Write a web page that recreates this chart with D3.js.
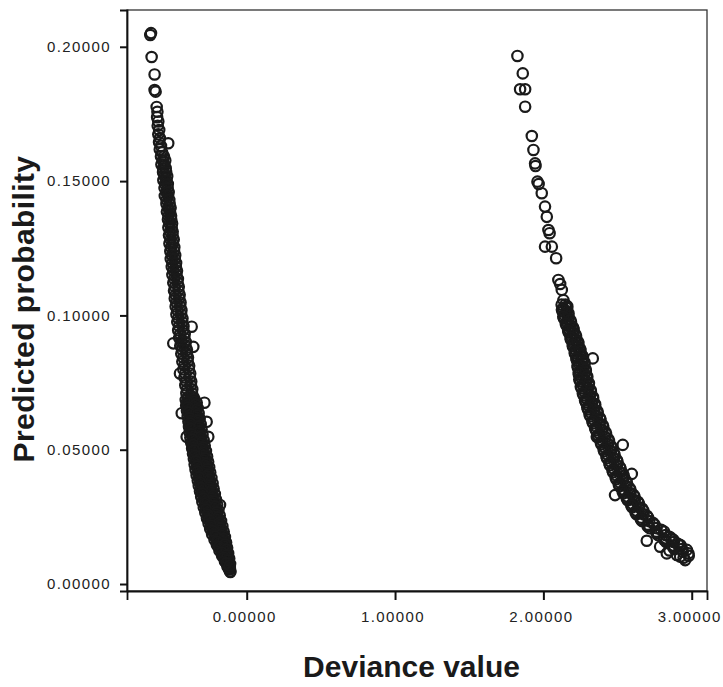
<!DOCTYPE html>
<html>
<head>
<meta charset="utf-8">
<script src="https://cdnjs.cloudflare.com/ajax/libs/d3/7.8.5/d3.min.js"></script>
<style>
  html, body { margin: 0; padding: 0; background: #fff; }
  .tick text { font-family: "Liberation Sans", Arial, sans-serif; font-size: 15px; letter-spacing: 1.4px; fill: #222; }
</style>
</head>
<body>
<script>
// tick values
var xTicks = [0, 1, 2, 3];
var yTicks = [0, 0.05, 0.10, 0.15, 0.20];

// cases with observed 0 : predicted probability, and the deviance values read at that probability
var leftProbability = [
  0.2051, 0.2044, 0.1962, 0.1897, 0.1839, 0.1833, 0.1776, 0.1758, 0.1738, 0.1722,
  0.1706, 0.1690, 0.1674, 0.1660, 0.1645, 0.1641, 0.1631, 0.1618, 0.1607,
  0.1592, 0.1577, 0.1562, 0.1548, 0.1533, 0.1518, 0.1503, 0.1489, 0.1474, 0.1459,
  0.1445, 0.1430, 0.1415, 0.1401, 0.1386, 0.1371, 0.1357, 0.1342, 0.1327, 0.1312,
  0.1298, 0.1283, 0.1268, 0.1254, 0.1239, 0.1224, 0.1210, 0.1195, 0.1180, 0.1166,
  0.1151, 0.1136, 0.1122, 0.1107, 0.1092, 0.1077, 0.1063, 0.1048, 0.1033, 0.1019,
  0.1004, 0.0989, 0.0975, 0.0960, 0.0958, 0.0945, 0.0931, 0.0916, 0.0901, 0.0896,
  0.0887, 0.0883, 0.0872, 0.0857, 0.0843, 0.0828, 0.0813, 0.0799, 0.0784, 0.0769,
  0.0754, 0.0740, 0.0725, 0.0710, 0.0696,
  0.0685, 0.0675, 0.0665, 0.0655, 0.0645, 0.0636, 0.0625, 0.0615, 0.0605, 0.0604,
  0.0595, 0.0585, 0.0575, 0.0565, 0.0555, 0.0548, 0.0545, 0.0535, 0.0525, 0.0515,
  0.0505, 0.0495, 0.0485, 0.0475, 0.0465, 0.0455, 0.0445, 0.0435, 0.0425, 0.0415,
  0.0405, 0.0395, 0.0385, 0.0375, 0.0365, 0.0355, 0.0345, 0.0335, 0.0325, 0.0315,
  0.0305, 0.0295, 0.0294, 0.0285, 0.0275, 0.0265, 0.0255, 0.0245, 0.0235, 0.0225,
  0.0215, 0.0205, 0.0195, 0.0185, 0.0175, 0.0165, 0.0155, 0.0145, 0.0135, 0.0125,
  0.0115, 0.0105, 0.0095, 0.0085, 0.0075, 0.0065, 0.0055, 0.0047, 0.0045,
  // the packed lower part
  0.0680, 0.0670, 0.0660, 0.0650, 0.0640, 0.0630, 0.0620, 0.0610, 0.0600, 0.0590,
  0.0580, 0.0570, 0.0560, 0.0550, 0.0540, 0.0530, 0.0520, 0.0510, 0.0500, 0.0490,
  0.0480, 0.0470, 0.0460, 0.0450, 0.0440, 0.0430, 0.0420, 0.0410, 0.0400, 0.0390,
  0.0380, 0.0370, 0.0360, 0.0350, 0.0340, 0.0330, 0.0320, 0.0310, 0.0300, 0.0290,
  0.0280, 0.0270, 0.0260, 0.0250, 0.0240, 0.0230, 0.0220, 0.0210, 0.0200, 0.0190,
  0.0180, 0.0170, 0.0160, 0.0150, 0.0140, 0.0130, 0.0120, 0.0110, 0.0100, 0.0090,
  0.0080, 0.0070, 0.0060,
  0.0688, 0.0678, 0.0668, 0.0658, 0.0648, 0.0638, 0.0628, 0.0618, 0.0608, 0.0598,
  0.0588, 0.0578, 0.0568, 0.0558, 0.0548, 0.0538, 0.0528, 0.0518, 0.0508, 0.0498,
  0.0488, 0.0478, 0.0468, 0.0458, 0.0448, 0.0438, 0.0428, 0.0418, 0.0408, 0.0398,
  0.0388, 0.0378, 0.0368, 0.0358, 0.0348, 0.0338, 0.0328, 0.0318, 0.0308, 0.0298,
  0.0288, 0.0278, 0.0268, 0.0258, 0.0248, 0.0238, 0.0228, 0.0218, 0.0208, 0.0198,
  0.0188, 0.0178, 0.0168, 0.0158, 0.0148, 0.0138, 0.0128, 0.0118, 0.0108, 0.0098,
  0.0088, 0.0078, 0.0068
];
var leftDeviance = [
  [-0.645],[-0.650],[-0.641],[-0.621],[-0.621],[-0.614],[-0.607],[-0.602],[-0.604],[-0.596],
  [-0.600],[-0.590],[-0.596],[-0.585],[-0.591],[-0.529],[-0.578],[-0.586],[-0.570],
  [-0.578,-0.558],[-0.566,-0.549],[-0.575,-0.556],[-0.564,-0.546],[-0.564,-0.543],[-0.553,-0.536],[-0.562,-0.541],[-0.550,-0.532],[-0.554,-0.533],[-0.543,-0.526],
  [-0.552,-0.530],[-0.540,-0.522],[-0.541,-0.520],[-0.530,-0.513],[-0.538,-0.517],[-0.527,-0.510],[-0.531,-0.509],[-0.520,-0.503],[-0.528,-0.506],[-0.517,-0.499],
  [-0.524,-0.500],[-0.513,-0.492],[-0.521,-0.497],[-0.510,-0.488],[-0.515,-0.490],[-0.504,-0.482],[-0.512,-0.485],[-0.500,-0.476],[-0.505,-0.478],[-0.494,-0.470],
  [-0.501,-0.474],[-0.489,-0.464],[-0.495,-0.466],[-0.484,-0.458],[-0.490,-0.461],[-0.479,-0.452],[-0.485,-0.455],[-0.473,-0.446],[-0.479,-0.448],[-0.467,-0.440],
  [-0.474,-0.442],[-0.462,-0.433],[-0.468,-0.435],[-0.456,-0.426],[-0.371],[-0.462,-0.428],[-0.449,-0.418],[-0.455,-0.421],[-0.442,-0.411],[-0.495],
  [-0.448,-0.413],[-0.360],[-0.435,-0.403],[-0.441,-0.405],[-0.428,-0.396],[-0.434,-0.398],[-0.421,-0.388],[-0.427,-0.390],[-0.450,-0.414,-0.381],[-0.420,-0.383],
  [-0.408,-0.374],[-0.414,-0.376],[-0.402,-0.367],[-0.407,-0.369],[-0.396,-0.360],
  [-0.411,-0.383,-0.355],[-0.395,-0.366,-0.337,-0.285],[-0.408,-0.378,-0.349],[-0.390,-0.361,-0.331],[-0.403,-0.373,-0.342],[-0.438,-0.385,-0.354,-0.324],[-0.398,-0.367,-0.336],[-0.379,-0.348,-0.317],[-0.393,-0.361,-0.329],[-0.270],
  [-0.374,-0.342,-0.310],[-0.389,-0.356,-0.323],[-0.370,-0.337,-0.304],[-0.385,-0.351,-0.318],[-0.365,-0.332,-0.298],[-0.405,-0.259],[-0.380,-0.346,-0.311],[-0.359,-0.324,-0.290],[-0.374,-0.339,-0.304],[-0.353,-0.318,-0.283],
  [-0.368,-0.332,-0.296],[-0.347,-0.311,-0.275],[-0.362,-0.326,-0.290],[-0.341,-0.304,-0.267],[-0.356,-0.319,-0.282],[-0.335,-0.298,-0.260],[-0.351,-0.313,-0.276],[-0.328,-0.291,-0.253],[-0.345,-0.307,-0.268],[-0.323,-0.284,-0.246],
  [-0.338,-0.300,-0.261],[-0.315,-0.276,-0.238],[-0.330,-0.292,-0.253],[-0.307,-0.268,-0.230],[-0.323,-0.285,-0.246],[-0.300,-0.261,-0.223],[-0.315,-0.277,-0.238],[-0.292,-0.253,-0.215],[-0.307,-0.269,-0.230],[-0.284,-0.245,-0.207],
  [-0.299,-0.261,-0.222],[-0.274,-0.237,-0.199],[-0.180],[-0.289,-0.251,-0.214],[-0.266,-0.229,-0.191],[-0.279,-0.242,-0.205],[-0.256,-0.219,-0.182],[-0.268,-0.232,-0.196],[-0.245,-0.209,-0.173],[-0.257,-0.222,-0.187],
  [-0.234,-0.199,-0.164],[-0.246,-0.212,-0.177],[-0.222,-0.189,-0.155],[-0.233,-0.200,-0.167],[-0.209,-0.178,-0.147],[-0.217,-0.187,-0.158],[-0.195,-0.167,-0.139],[-0.201,-0.175,-0.148],[-0.180,-0.156,-0.132],[-0.184,-0.162,-0.139],
  [-0.165,-0.145,-0.125],[-0.166,-0.148,-0.131],[-0.148,-0.133,-0.118],[-0.147,-0.134,-0.121],[-0.133,-0.122,-0.112],[-0.130,-0.122,-0.114],[-0.119,-0.113],[-0.112],[-0.110],
  // the packed lower part
  [-0.388,-0.359],[-0.386,-0.356],[-0.384,-0.353],[-0.381,-0.350],[-0.379,-0.346],[-0.376,-0.343],[-0.373,-0.340],[-0.370,-0.337],[-0.368,-0.334],[-0.365,-0.331],
  [-0.363,-0.328],[-0.360,-0.326],[-0.358,-0.323],[-0.355,-0.320],[-0.352,-0.316],[-0.349,-0.312],[-0.346,-0.309],[-0.343,-0.305],[-0.340,-0.301],[-0.337,-0.298],
  [-0.333,-0.295],[-0.330,-0.291],[-0.327,-0.288],[-0.324,-0.284],[-0.321,-0.281],[-0.317,-0.277],[-0.315,-0.274],[-0.311,-0.270],[-0.307,-0.266],[-0.303,-0.262],
  [-0.299,-0.258],[-0.296,-0.255],[-0.292,-0.251],[-0.288,-0.247],[-0.284,-0.243],[-0.280,-0.239],[-0.276,-0.235],[-0.272,-0.231],[-0.267,-0.227],[-0.263,-0.223],
  [-0.259,-0.219],[-0.254,-0.215],[-0.249,-0.210],[-0.244,-0.205],[-0.239,-0.200],[-0.233,-0.196],[-0.228,-0.191],[-0.223,-0.186],[-0.217,-0.181],[-0.211,-0.176],
  [-0.205,-0.171],[-0.198,-0.166],[-0.191,-0.161],[-0.185,-0.156],[-0.177,-0.151],[-0.171,-0.146],[-0.163,-0.141],[-0.156,-0.137],[-0.149,-0.132],[-0.141,-0.126],
  [-0.134,-0.122],[-0.127,-0.118],[-0.121,-0.114],
  [-0.353],[-0.401],[-0.346],[-0.397],[-0.339],[-0.392],[-0.333],[-0.386],[-0.326],[-0.381],
  [-0.320],[-0.377],[-0.315],[-0.373],[-0.308],[-0.366],[-0.300],[-0.361],[-0.293],[-0.355],
  [-0.287],[-0.349],[-0.279],[-0.343],[-0.272],[-0.336],[-0.264],[-0.331],[-0.257],[-0.323],
  [-0.249],[-0.315],[-0.242],[-0.308],[-0.234],[-0.300],[-0.226],[-0.292],[-0.218],[-0.282],
  [-0.210],[-0.274],[-0.202],[-0.264],[-0.193],[-0.253],[-0.183],[-0.242],[-0.174],[-0.231],
  [-0.164],[-0.216],[-0.155],[-0.201],[-0.146],[-0.186],[-0.137],[-0.170],[-0.130],[-0.153],
  [-0.122],[-0.137],[-0.114]
];

// cases with observed 1
var rightProbability = [
  0.1966, 0.1901, 0.1842, 0.1777, 0.1668, 0.1616, 0.1566, 0.1556, 0.1498, 0.1489,
  0.1455, 0.1405, 0.1367, 0.1318, 0.1306, 0.1256, 0.1213, 0.1132, 0.1117, 0.1095,
  0.1057,
  0.1040, 0.1027, 0.1014, 0.1001, 0.0988, 0.0975, 0.0962, 0.0949, 0.0936, 0.0923,
  0.0910, 0.0897, 0.0884, 0.0871, 0.0858, 0.0845, 0.0840, 0.0832, 0.0819, 0.0806,
  0.0793, 0.0780, 0.0767, 0.0754, 0.0741, 0.0728, 0.0715, 0.0702, 0.0689, 0.0676,
  0.0663, 0.0650, 0.0637, 0.0624, 0.0611, 0.0598, 0.0585, 0.0572, 0.0559, 0.0548,
  0.0546, 0.0533, 0.0520, 0.0518, 0.0507, 0.0494, 0.0481, 0.0468, 0.0455, 0.0442,
  0.0429, 0.0416, 0.0410, 0.0403, 0.0390, 0.0377, 0.0364, 0.0351, 0.0338, 0.0331,
  0.0325, 0.0312, 0.0299, 0.0286, 0.0273, 0.0260, 0.0247, 0.0234, 0.0221, 0.0208,
  0.0195, 0.0182, 0.0169, 0.0164, 0.0161, 0.0156, 0.0145, 0.0143, 0.0139, 0.0130,
  0.0127, 0.0125, 0.0120, 0.0114, 0.0108, 0.0105, 0.0102, 0.0098, 0.0089,
  // in between
  0.1034, 0.1021, 0.1008, 0.0995, 0.0982, 0.0969, 0.0956, 0.0943, 0.0930, 0.0917,
  0.0904, 0.0891, 0.0878, 0.0865, 0.0852, 0.0839, 0.0826, 0.0813, 0.0800, 0.0787,
  0.0774, 0.0761, 0.0748, 0.0735, 0.0722, 0.0709, 0.0696, 0.0683, 0.0670, 0.0657,
  0.0644, 0.0631, 0.0618, 0.0605, 0.0592, 0.0579, 0.0566, 0.0553, 0.0540, 0.0527,
  0.0514, 0.0501, 0.0488, 0.0475, 0.0462, 0.0449, 0.0436, 0.0423, 0.0410, 0.0397,
  0.0384, 0.0371, 0.0358, 0.0345, 0.0332, 0.0319, 0.0306, 0.0293, 0.0280, 0.0267,
  0.0254, 0.0241, 0.0228, 0.0215, 0.0202, 0.0189, 0.0176, 0.0163, 0.0150, 0.0137
];
var rightDeviance = [
  [1.825],[1.861],[1.843,1.877],[1.877],[1.922],[1.933],[1.944],[1.947],[1.960],[1.968],
  [1.989],[2.011],[2.023],[2.034],[2.042],[2.011,2.057],[2.086],[2.101],[2.113],[2.124],
  [2.135],
  [2.123,2.149],[2.134,2.160],[2.130,2.156],[2.142,2.168],[2.139,2.168],[2.157,2.186],[2.156,2.185],[2.172,2.204],[2.171,2.202],[2.188,2.220],
  [2.185,2.219],[2.203,2.236],[2.199,2.233],[2.217,2.250],[2.212,2.248],[2.231,2.267],[2.333],[2.227,2.263],[2.241,2.277],[2.232,2.271],
  [2.247,2.286],[2.239,2.278],[2.256,2.295],[2.249,2.288],[2.266,2.305],[2.258,2.300],[2.278,2.320],[2.272,2.314],[2.293,2.335],[2.287,2.329],
  [2.307,2.349],[2.301,2.345],[2.321,2.366],[2.317,2.361],[2.340,2.385],[2.336,2.380],[2.358,2.403],[2.355,2.399],[2.377,2.422],[2.360],
  [2.372,2.419],[2.396,2.442],[2.391,2.438],[2.535],[2.415,2.461],[2.410,2.457],[2.434,2.480],[2.429,2.476],[2.454,2.500],[2.449,2.496],
  [2.475,2.521],[2.470,2.517],[2.596],[2.496,2.542],[2.492,2.539],[2.517,2.563],[2.513,2.560],[2.541,2.587],[2.540,2.587],[2.483],
  [2.569,2.615],[2.569,2.616],[2.599,2.645],[2.599,2.646],[2.628,2.674],[2.628,2.675],[2.661,2.707],[2.666,2.713],[2.704,2.750],[2.716,2.763],
  [2.762,2.814],[2.773,2.825],[2.814,2.866],[2.877],[2.697],[2.828,2.880],[2.922],[2.874,2.926],[2.787],[2.883,2.935],
  [2.967],[2.850],[2.940],[2.832,2.978],[2.900],[2.980],[2.922],[2.945],[2.956],
  // in between
  [2.161],[2.125],[2.169],[2.134],[2.182],[2.151],[2.199],[2.167],[2.215],[2.183],
  [2.231],[2.198],[2.245],[2.212],[2.260],[2.222],[2.277],[2.230],[2.284],[2.238],
  [2.295],[2.242],[2.307],[2.252],[2.319],[2.266],[2.334],[2.281],[2.348],[2.296],
  [2.363],[2.311],[2.381],[2.330],[2.399],[2.349],[2.418],[2.368],[2.437],[2.387],
  [2.456],[2.406],[2.475],[2.425],[2.495],[2.445],[2.515],[2.466],[2.536],[2.487],
  [2.558],[2.508],[2.580],[2.534],[2.608],[2.562],[2.637],[2.592],[2.667],[2.621],
  [2.698],[2.657],[2.738],[2.703],[2.794],[2.763],[2.850],[2.817],[2.907],[2.875]
];

function toPoints(probs, devs) {
    var pts = [];
    var n = Math.min(probs.length, devs.length);
    for (var i = 0; i < n; i++) {
        devs[i].forEach(function(d) { pts.push({dev: d, prob: probs[i]}); });
    }
    return pts;
}

function main(){
    var canvasWidth = 723;
    var canvasHeight = 687;

    var svg = d3.select("body").append("svg")
        .attr("width", canvasWidth)
        .attr("height", canvasHeight);

    var left = 127, right = 707, top = 10, bottom = 591;

    var xScale = d3.scaleLinear().domain([-0.807, 3.103]).range([left, right]);
    var yScale = d3.scaleLinear().domain([-0.0026, 0.2137]).range([bottom, top]);

    var points = toPoints(leftProbability, leftDeviance)
        .concat(toPoints(rightProbability, rightDeviance));

    // frame
    svg.append("rect")
        .attr("x", left).attr("y", top)
        .attr("width", right - left).attr("height", bottom - top)
        .attr("fill", "none")
        .attr("stroke", "#333")
        .attr("stroke-width", 1.3);

    // points
    svg.append("g").selectAll("circle")
        .data(points)
        .enter().append("circle")
        .attr("cx", function(d){ return xScale(d.dev); })
        .attr("cy", function(d){ return yScale(d.prob); })
        .attr("r", 5.2)
        .attr("fill", "none")
        .attr("stroke", "#1a1a1a")
        .attr("stroke-width", 2.2);

    // x axis
    var xAxis = svg.append("g")
        .attr("transform", "translate(0," + bottom + ")")
        .call(d3.axisBottom(xScale).tickValues(xTicks).tickFormat(d3.format(".5f"))
            .tickSize(9).tickPadding(11));
    xAxis.select(".domain").attr("stroke", "#111").attr("stroke-width", 1.8);
    xAxis.selectAll(".tick line").attr("stroke", "#111").attr("stroke-width", 2);
    xAxis.selectAll(".tick text").attr("dx", "-2.5");

    // y axis
    var yAxis = svg.append("g")
        .attr("transform", "translate(" + left + ",0)")
        .call(d3.axisLeft(yScale).tickValues(yTicks).tickFormat(d3.format(".5f"))
            .tickSize(7).tickPadding(9));
    yAxis.select(".domain").attr("stroke", "#111").attr("stroke-width", 1.8);
    yAxis.selectAll(".tick line").attr("stroke", "#111").attr("stroke-width", 2);

    // axis titles
    svg.append("text")
        .attr("x", 411.5)
        .attr("y", 677)
        .attr("text-anchor", "middle")
        .attr("font-family", "'Liberation Sans', Arial, sans-serif")
        .attr("font-weight", "bold")
        .attr("font-size", "30px")
        .attr("fill", "#1a1a1a")
        .text("Deviance value");

    svg.append("text")
        .attr("transform", "translate(34,309) rotate(-90)")
        .attr("text-anchor", "middle")
        .attr("font-family", "'Liberation Sans', Arial, sans-serif")
        .attr("font-weight", "bold")
        .attr("font-size", "30px")
        .attr("letter-spacing", "0.4px")
        .attr("fill", "#1a1a1a")
        .text("Predicted probability");
}
main();
</script>
</body>
</html>
